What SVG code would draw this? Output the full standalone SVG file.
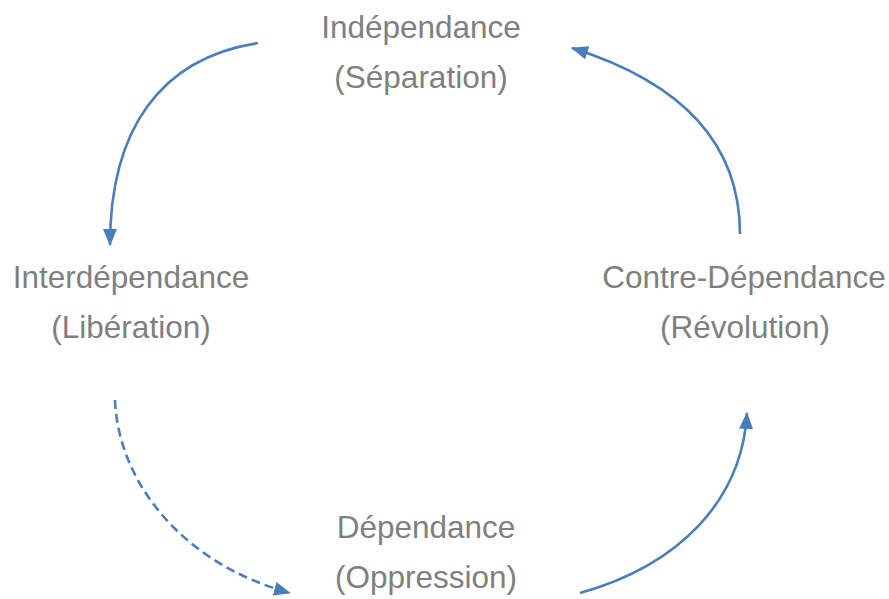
<svg xmlns="http://www.w3.org/2000/svg" width="889" height="599" viewBox="0 0 889 599">
<style>
.lbl{font-family:"Liberation Sans",Arial,sans-serif;font-size:31.5px;fill:#7f7f7f;text-anchor:middle}
.arc{fill:none;stroke:#4a7ebb;stroke-width:2.6}
.dash{stroke-dasharray:9,5}
</style>
<defs>
<marker id="ah" markerUnits="userSpaceOnUse" markerWidth="17" markerHeight="14" refX="16" refY="7" orient="auto">
<path d="M0,0 L17,7 L0,14 Z" fill="#4a7ebb"/>
</marker>
</defs>
<rect width="889" height="599" fill="#fff"/>
<g id="connectors">
<path class="arc" d="M258,43 C160,58 110,130 110,245" marker-end="url(#ah)"/>
<path class="arc" d="M740,234 C740,150 690,85 572,48" marker-end="url(#ah)"/>
<path class="arc dash" d="M115,400 C118,480 180,563 290,593" marker-end="url(#ah)"/>
<path class="arc" d="M580,593 C680,565 742,500 747,413" marker-end="url(#ah)"/>
</g>
<g id="independance">
<text class="lbl" x="421" y="38">Indépendance</text>
<text class="lbl" x="421" y="88">(Séparation)</text>
</g>
<g id="interdependance">
<text class="lbl" x="131" y="288">Interdépendance</text>
<text class="lbl" x="131" y="338">(Libération)</text>
</g>
<g id="contre-dependance">
<text class="lbl" x="744" y="288">Contre-Dépendance</text>
<text class="lbl" x="745" y="338">(Révolution)</text>
</g>
<g id="dependance">
<text class="lbl" x="426" y="538">Dépendance</text>
<text class="lbl" x="426" y="588">(Oppression)</text>
</g>
</svg>
